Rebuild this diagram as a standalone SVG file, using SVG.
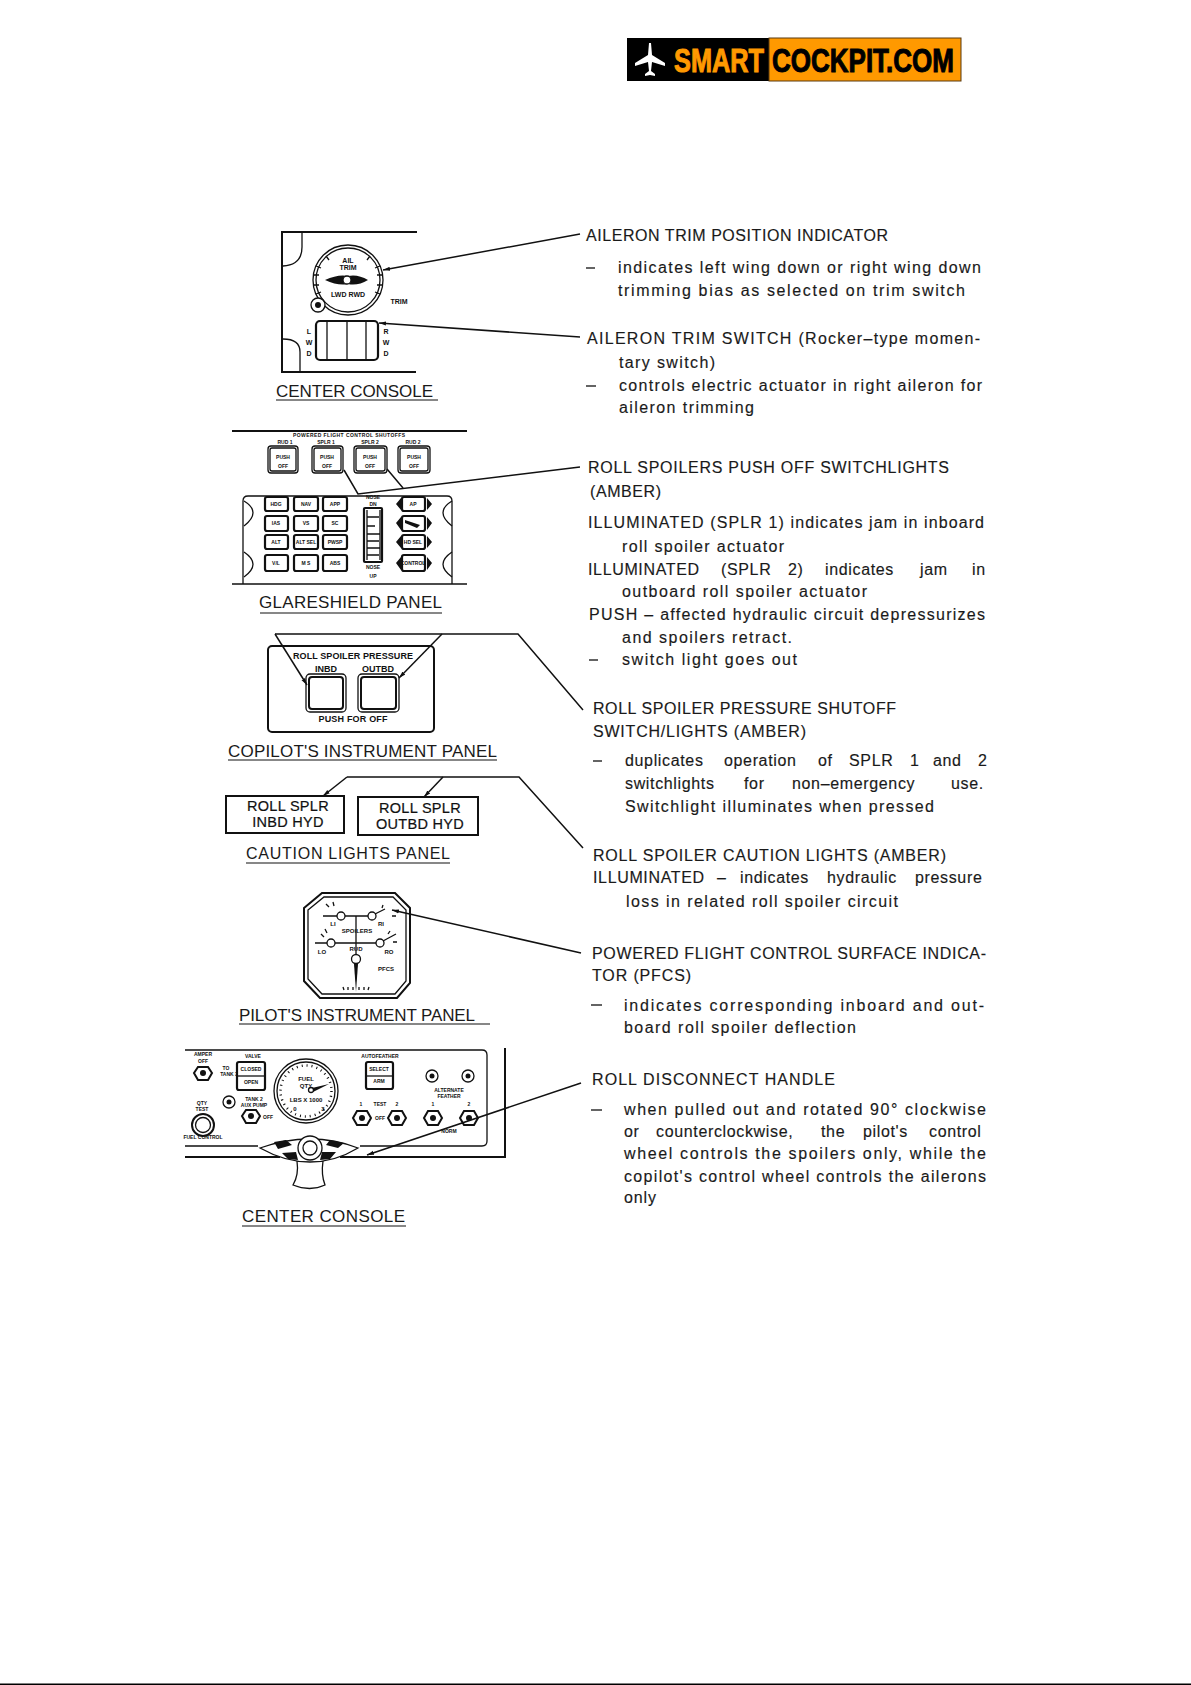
<svg xmlns="http://www.w3.org/2000/svg" width="1191" height="1685" viewBox="0 0 1191 1685">
<defs>
<marker id="ah" markerWidth="8" markerHeight="6" refX="7" refY="3" orient="auto" markerUnits="userSpaceOnUse"><path d="M0 1L7 3L0 5z" fill="#111"/></marker>
</defs>
<style>
text{font-family:"Liberation Sans",Arial,sans-serif;fill:#111}
.b{font-size:16px;fill:#1a1a1a;stroke:#1a1a1a;stroke-width:.15}
.j{letter-spacing:.65px}
.cap{font-size:17px;fill:#1a1a1a}
.t{font-weight:700;text-anchor:middle}
.s5{font-size:5px}.s6{font-size:6px}.s7{font-size:7px}.s9{font-size:9px}
.ln{fill:none;stroke:#111;stroke-width:1.3}
.th{fill:none;stroke:#111;stroke-width:2}
.w{fill:#fff;stroke:#111;stroke-width:1.3}
.wb{fill:#fff;stroke:#111;stroke-width:2.2}
.k{fill:#111;stroke:none}
.ul{stroke:#111;stroke-width:1.2;fill:none}
.c{fill:none;stroke:#111;stroke-width:1.5}
.d{stroke:#222;stroke-width:1.4}
</style>
<g id="logo">
<rect x="627" y="38" width="142" height="43" fill="#000"/>
<rect x="769" y="38" width="192" height="43" fill="#ff9900" stroke="#5a3a10" stroke-width="1"/>
<path d="M649 43L651 43L652 55L665 63L665 66L652 62L651 71L655 74L655 76L650 75L645 76L645 74L649 71L648 62L635 66L635 63L648 55z" fill="#fff"/>
<text x="674" y="72" font-size="33" font-weight="700" textLength="90" lengthAdjust="spacingAndGlyphs" style="fill:#ff9900;stroke:#ff9900;stroke-width:1">SMART</text>
<text x="772" y="72" font-size="33" font-weight="700" textLength="182" lengthAdjust="spacingAndGlyphs" style="fill:#000;stroke:#000;stroke-width:1">COCKPIT.COM</text>
</g>

<g id="center-console-trim">
<path class="th" d="M417 232H282V372H416"/>
<path class="ln" d="M302 232V247Q302 265 283 266M283 339Q300 339 300 352V372"/>
<path class="th" d="M282 266V339" stroke-width="2.6"/>
<circle class="w" cx="348" cy="280" r="35"/><circle class="ln" cx="348" cy="280" r="32"/>
<path class="ln" d="M316 266l5 2M313 275l6 0M313 285l6 0M316 294l5-2M380 266l-5 2M383 275l-6 0M383 285l-6 0M380 294l-5-2M326 256l3 4M370 256l-3 4"/>
<path class="k" d="M325 280Q338 274 348 276Q358 274 368 280Q358 286 348 284Q338 286 325 280z"/>
<circle class="w" cx="347" cy="280" r="4"/>
<circle class="w" cx="318" cy="305" r="7"/><circle class="k" cx="318" cy="305" r="3"/>
<text class="t s7" x="348" y="263">AIL</text><text class="t s7" x="348" y="270">TRIM</text>
<text class="t s7" x="348" y="297">LWD RWD</text>
<text class="t s7" x="399" y="304">TRIM</text>
<rect class="wb" x="316" y="321" width="62" height="39" rx="4" stroke-width="2.6"/>
<path class="ln" d="M327 322V359M347 322V359M366 322V359"/>
<text class="t s7" x="309" y="334">L</text><text class="t s7" x="309" y="345">W</text><text class="t s7" x="309" y="356">D</text>
<text class="t s7" x="386" y="334">R</text><text class="t s7" x="386" y="345">W</text><text class="t s7" x="386" y="356">D</text>
<text class="cap" x="276" y="397" textLength="157">CENTER CONSOLE</text>
<path class="ul" d="M276 400H438"/>
</g>

<g id="glareshield-panel">
<path class="th" d="M232 431H467"/>
<text class="t s5" x="349" y="437" textLength="112">POWERED FLIGHT CONTROL SHUTOFFS</text>
<text class="t s5" x="285" y="444">RUD 1</text><text class="t s5" x="326" y="444">SPLR 1</text><text class="t s5" x="370" y="444">SPLR 2</text><text class="t s5" x="413" y="444">RUD 2</text>
<rect class="w" x="268" y="446" width="30" height="27" rx="3"/><rect class="ln" x="270" y="448" width="26" height="23" rx="2"/>
<rect class="w" x="312" y="446" width="31" height="27" rx="3"/><rect class="ln" x="314" y="448" width="27" height="23" rx="2"/>
<rect class="w" x="354" y="446" width="33" height="27" rx="3"/><rect class="ln" x="356" y="448" width="29" height="23" rx="2"/>
<rect class="w" x="398" y="446" width="32" height="27" rx="3"/><rect class="ln" x="400" y="448" width="28" height="23" rx="2"/>
<g class="s5"><text class="t" x="283" y="459">PUSH</text><text class="t" x="283" y="468">OFF</text><text class="t" x="327" y="459">PUSH</text><text class="t" x="327" y="468">OFF</text><text class="t" x="370" y="459">PUSH</text><text class="t" x="370" y="468">OFF</text><text class="t" x="414" y="459">PUSH</text><text class="t" x="414" y="468">OFF</text></g>
<path class="ln" d="M232 584H243V501Q243 496 248 496H447Q452 496 452 501V584H467M243 584H452"/>
<path class="ln" d="M244 501Q262 512 244 526M244 552Q262 564 244 577M452 501Q434 512 452 526M452 552Q434 564 452 577"/>
<g>
<rect class="wb" x="265" y="497" width="23" height="14" rx="2"/><rect class="wb" x="294" y="497" width="24" height="14" rx="2"/><rect class="wb" x="323" y="497" width="24" height="14" rx="2"/>
<rect class="wb" x="265" y="516" width="23" height="15" rx="2"/><rect class="wb" x="294" y="516" width="24" height="15" rx="2"/><rect class="wb" x="323" y="516" width="24" height="15" rx="2"/>
<rect class="wb" x="265" y="535" width="23" height="14" rx="2"/><rect class="wb" x="294" y="535" width="24" height="14" rx="2"/><rect class="wb" x="323" y="535" width="24" height="14" rx="2"/>
<rect class="wb" x="265" y="555" width="23" height="16" rx="2"/><rect class="wb" x="294" y="555" width="24" height="16" rx="2"/><rect class="wb" x="323" y="555" width="24" height="16" rx="2"/>
<rect class="wb" x="402" y="497" width="23" height="14" rx="2"/><rect class="wb" x="402" y="516" width="23" height="15" rx="2"/><rect class="wb" x="402" y="535" width="23" height="14" rx="2"/><rect class="wb" x="402" y="555" width="23" height="16" rx="2"/>
<path class="k" d="M401 498L396 504L401 510zM427 498L432 504L427 510zM401 517L396 523L401 530zM427 517L432 523L427 530zM401 536L396 542L401 548zM427 536L432 542L427 548zM401 557L396 563L401 570zM427 557L432 563L427 570z"/>
</g>
<g class="s5">
<text class="t" x="276" y="506">HDG</text><text class="t" x="306" y="506">NAV</text><text class="t" x="335" y="506">APP</text>
<text class="t" x="276" y="525">IAS</text><text class="t" x="306" y="525">VS</text><text class="t" x="335" y="525">SC</text>
<text class="t" x="276" y="544">ALT</text><text class="t" x="306" y="544">ALT SEL</text><text class="t" x="335" y="544">PWSP</text>
<text class="t" x="276" y="565">V/L</text><text class="t" x="306" y="565">M S</text><text class="t" x="335" y="565">ABS</text>
<text class="t" x="413" y="506">AP</text><text class="t" x="413" y="544">HD SEL</text><text class="t" x="413" y="565">CONTROL</text>
<text class="t" x="373" y="499">NOSE</text><text class="t" x="373" y="506">DN</text><text class="t" x="373" y="569">NOSE</text><text class="t" x="373" y="578">UP</text>
</g>
<path class="k" d="M405 520L420 525L417 528L405 523z"/>
<rect class="wb" x="364" y="508" width="18" height="54" rx="1"/>
<path class="ln" d="M367 510V560M380 510V560M367 517H379M367 526H375M367 534H380M367 541H379M367 548H380M367 555H379"/>
<text class="cap" x="259" y="608" textLength="183">GLARESHIELD PANEL</text>
<path class="ul" d="M260 613H442"/>
</g>

<g id="copilot-panel">
<rect class="th" x="268" y="646" width="166" height="86" rx="4" stroke-width="1.8"/>
<text class="t s9" x="353" y="659" textLength="120">ROLL SPOILER PRESSURE</text>
<text class="t s9" x="326" y="672">INBD</text><text class="t s9" x="378" y="672">OUTBD</text>
<rect class="w" x="306" y="674" width="40" height="38" rx="4"/><rect class="th" x="309" y="677" width="34" height="32" rx="3"/>
<rect class="w" x="358" y="674" width="41" height="38" rx="4"/><rect class="th" x="361" y="677" width="35" height="32" rx="3"/>
<text class="t s9" x="353" y="722" textLength="69">PUSH FOR OFF</text>
<text class="cap" x="228" y="757" textLength="269">COPILOT'S INSTRUMENT PANEL</text>
<path class="ul" d="M228 760H497"/>
</g>

<g id="caution-panel">
<rect class="th" x="226" y="796" width="118" height="37"/>
<rect class="th" x="358" y="797" width="120" height="38"/>
<g font-size="14.5" letter-spacing=".3" style="stroke:#111;stroke-width:.2">
<text x="288" y="811" text-anchor="middle">ROLL SPLR</text><text x="288" y="827" text-anchor="middle">INBD HYD</text>
<text x="420" y="813" text-anchor="middle">ROLL SPLR</text><text x="420" y="829" text-anchor="middle">OUTBD HYD</text>
</g>
<text class="cap" x="246" y="859" textLength="204" style="font-size:16px">CAUTION LIGHTS PANEL</text>
<path class="ul" d="M246 863H450"/>
</g>

<g id="pfcs-indicator">
<path class="th" d="M304 908L322 893H395L410 908V983L397 998H320L304 981z"/>
<path class="ln" d="M308 910L324 897H393L406 910V981L395 994H322L308 979z"/>
<path class="ln" d="M323 916H372M315 943H380M356 916V959"/>
<circle class="w" cx="341" cy="916" r="4"/><circle class="w" cx="372" cy="916" r="4"/><circle class="w" cx="331" cy="943" r="4"/><circle class="w" cx="380" cy="943" r="4"/><circle class="w" cx="356" cy="959" r="4.5"/>
<path class="ln" d="M375 914L385 909M383 941L396 934M326 904l3 3M333 902l1 4M383 905l-1 3M392 916l4 0M321 934l3 3M325 929l2 4M390 931l-2 3M393 942l4 0"/>
<path class="k" d="M354 964H358L356 992z"/>
<path class="ln" d="M343 987l1 3M348 987l0 3M353 987l0 3M359 987l0 3M364 987l0 3M369 987l-1 3"/>
<text class="t s6" x="333" y="926">LI</text><text class="t s6" x="381" y="926">RI</text>
<text class="t s6" x="357" y="933">SPOILERS</text>
<text class="t s6" x="322" y="954">LO</text><text class="t s6" x="389" y="954">RO</text><text class="t s6" x="356" y="951">RUD</text>
<text class="t s6" x="386" y="971">PFCS</text>
<text class="cap" x="239" y="1021" textLength="236">PILOT'S INSTRUMENT PANEL</text>
<path class="ul" d="M239 1024H490"/>
</g>

<g id="center-console-roll">
<path class="ln" d="M185 1050H482Q487 1050 487 1055V1141Q487 1146 482 1146H360M258 1146H185"/>
<path class="th" d="M505 1048V1157H340M280 1157H185"/>
<text class="t s5" x="203" y="1056">AMPER</text><text class="t s5" x="203" y="1063">OFF</text>
<text class="t s5" x="226" y="1070">TO</text><text class="t s5" x="229" y="1076">TANK 3</text>
<text class="t s5" x="253" y="1058">VALVE</text>
<rect class="wb" x="237" y="1062" width="28" height="28" rx="2"/><path class="ln" d="M237 1076H265"/>
<text class="t s5" x="251" y="1071">CLOSED</text><text class="t s5" x="251" y="1084">OPEN</text>
<path class="th" d="M198 1067L208 1067L212 1073L208 1080H198L194 1073z"/><circle class="k" cx="203" cy="1073" r="3"/>
<circle class="w" cx="229" cy="1102" r="6"/><circle class="k" cx="229" cy="1102" r="2.5"/>
<text class="t s5" x="254" y="1101">TANK 2</text><text class="t s5" x="254" y="1107">AUX PUMP</text>
<path class="th" d="M246 1110H256L260 1116L256 1123H246L242 1116z"/><circle class="k" cx="251" cy="1116" r="3"/>
<text class="t s5" x="268" y="1119">OFF</text>
<text class="t s5" x="202" y="1105">QTY</text><text class="t s5" x="202" y="1111">TEST</text>
<circle class="th" cx="203" cy="1125" r="11"/><circle class="ln" cx="203" cy="1125" r="7.5"/>
<text class="t s5" x="203" y="1139">FUEL CONTROL</text>
<circle class="w" cx="306" cy="1091" r="32"/><circle class="ln" cx="306" cy="1091" r="29"/>
<circle cx="306" cy="1091" r="25.5" fill="none" stroke="#111" stroke-width="2.5" stroke-dasharray="1 4"/>
<text class="t s6" x="306" y="1081">FUEL</text><text class="t s6" x="306" y="1088">QTY</text><text class="t s6" x="306" y="1102">LBS X 1000</text>
<text class="t s6" x="295" y="1111">0</text><text class="t s6" x="323" y="1111">3</text>
<path class="k" d="M312 1088L329 1084L313 1092z"/><circle class="w" cx="311" cy="1090" r="2.5"/>
<text class="t s5" x="380" y="1058">AUTOFEATHER</text>
<rect class="wb" x="366" y="1062" width="27" height="27" rx="2"/><path class="ln" d="M366 1076H393"/>
<text class="t s5" x="379" y="1071">SELECT</text><text class="t s5" x="379" y="1083">ARM</text>
<circle class="w" cx="432" cy="1076" r="6"/><circle class="k" cx="432" cy="1076" r="2.5"/>
<circle class="w" cx="468" cy="1076" r="6"/><circle class="k" cx="468" cy="1076" r="2.5"/>
<text class="t s5" x="449" y="1092">ALTERNATE</text><text class="t s5" x="449" y="1098">FEATHER</text>
<text class="t s5" x="361" y="1106">1</text><text class="t s5" x="380" y="1106">TEST</text><text class="t s5" x="397" y="1106">2</text><text class="t s5" x="380" y="1120">OFF</text>
<text class="t s5" x="433" y="1106">1</text><text class="t s5" x="469" y="1106">2</text><text class="t s5" x="449" y="1133">NORM</text>
<path class="th" d="M357 1111H367L371 1118L367 1125H357L353 1118z"/><circle class="k" cx="362" cy="1118" r="3"/>
<path class="th" d="M392 1111H402L406 1118L402 1125H392L388 1118z"/><circle class="k" cx="397" cy="1118" r="3"/>
<path class="th" d="M428 1111H438L442 1118L438 1125H428L424 1118z"/><circle class="k" cx="433" cy="1118" r="3"/>
<path class="th" d="M464 1111H474L478 1118L474 1125H464L460 1118z"/><circle class="k" cx="469" cy="1118" r="3"/>
<path class="w" d="M297 1161H323Q321 1175 325 1185Q310 1192 293 1185Q299 1175 297 1161z" stroke-width="1.6"/>
<path class="w" d="M260 1148Q285 1139 310 1139Q335 1139 358 1148Q335 1162 310 1162Q285 1162 260 1148z" stroke-width="1.6"/>
<path class="k" d="M274 1142L286 1140L292 1145L278 1149zM330 1140L344 1143L338 1148L326 1145zM282 1153L296 1152L298 1160L288 1159zM322 1152L336 1152L330 1159L320 1160z"/>
<circle class="w" cx="310" cy="1148" r="12" stroke-width="1.8"/><circle class="ln" cx="310" cy="1148" r="7"/>
<text class="cap" x="242" y="1222" textLength="163">CENTER CONSOLE</text>
<path class="ul" d="M242 1226H406"/>
</g>

<g id="connectors">
<path class="c" marker-end="url(#ah)" d="M580 234L383 270"/>
<path class="c" marker-end="url(#ah)" d="M580 337L379 323"/>
<path class="c" d="M580 467L358 494L344 470M403 488L387 469"/>
<path class="c" d="M583 710L518 634H275"/><path class="c" marker-end="url(#ah)" d="M275 634L307 685"/><path class="c" marker-end="url(#ah)" d="M442 634L399 678"/>
<path class="c" d="M583 848L519 777H347"/><path class="c" marker-end="url(#ah)" d="M347 777L323 796"/><path class="c" marker-end="url(#ah)" d="M443 777L424 797"/>
<path class="c" marker-end="url(#ah)" d="M581 953L392 910"/>
<path class="c" marker-end="url(#ah)" d="M581 1083L367 1155"/>
</g>

<g id="text-blocks">
<text class="b" x="586" y="241" textLength="302">AILERON TRIM POSITION INDICATOR</text>
<path class="d" d="M586 268H595"/>
<text class="b" x="618" y="273" textLength="363">indicates left wing down or right wing down</text>
<text class="b" x="618" y="296" textLength="347">trimming bias as selected on trim switch</text>
<text class="b" x="587" y="344" textLength="393">AILERON TRIM SWITCH (Rocker–type momen-</text>
<text class="b" x="619" y="368" textLength="96">tary switch)</text>
<path class="d" d="M586 386H596"/>
<text class="b" x="619" y="391" textLength="363">controls electric actuator in right aileron for</text>
<text class="b" x="619" y="413" textLength="135">aileron trimming</text>
<text class="b" x="588" y="473" textLength="361">ROLL SPOILERS PUSH OFF SWITCHLIGHTS</text>
<text class="b" x="590" y="497" textLength="71">(AMBER)</text>
<text class="b" x="588" y="528" textLength="396">ILLUMINATED (SPLR 1) indicates jam in inboard</text>
<text class="b" x="622" y="552" textLength="162">roll spoiler actuator</text>
<text class="b j" y="575"><tspan x="588">ILLUMINATED</tspan> <tspan x="721">(SPLR</tspan> <tspan x="788">2)</tspan> <tspan x="825">indicates</tspan> <tspan x="920">jam</tspan> <tspan x="972">in</tspan></text>
<text class="b" x="622" y="597" textLength="245">outboard roll spoiler actuator</text>
<text class="b" x="589" y="620" textLength="396">PUSH – affected hydraulic circuit depressurizes</text>
<text class="b" x="622" y="643" textLength="170">and spoilers retract.</text>
<path class="d" d="M589 660H598"/>
<text class="b" x="622" y="665" textLength="175">switch light goes out</text>
<text class="b" x="593" y="714" textLength="303">ROLL SPOILER PRESSURE SHUTOFF</text>
<text class="b" x="593" y="737" textLength="213">SWITCH/LIGHTS (AMBER)</text>
<path class="d" d="M593 761H602"/>
<text class="b j" y="766"><tspan x="625">duplicates</tspan> <tspan x="724">operation</tspan> <tspan x="818">of</tspan> <tspan x="849">SPLR</tspan> <tspan x="910">1</tspan> <tspan x="933">and</tspan> <tspan x="978">2</tspan></text>
<text class="b j" y="789"><tspan x="625">switchlights</tspan> <tspan x="744">for</tspan> <tspan x="792">non–emergency</tspan> <tspan x="951">use.</tspan></text>
<text class="b" x="625" y="812" textLength="309">Switchlight illuminates when pressed</text>
<text class="b" x="593" y="861" textLength="353">ROLL SPOILER CAUTION LIGHTS (AMBER)</text>
<text class="b j" y="883"><tspan x="593">ILLUMINATED</tspan> <tspan x="717">–</tspan> <tspan x="740">indicates</tspan> <tspan x="827">hydraulic</tspan> <tspan x="915">pressure</tspan></text>
<text class="b" x="626" y="907" textLength="272">loss in related roll spoiler circuit</text>
<text class="b" x="592" y="959" textLength="394">POWERED FLIGHT CONTROL SURFACE INDICA-</text>
<text class="b" x="592" y="981" textLength="99">TOR (PFCS)</text>
<path class="d" d="M591 1005H602"/>
<text class="b" x="624" y="1011" textLength="360">indicates corresponding inboard and out-</text>
<text class="b" x="624" y="1033" textLength="232">board roll spoiler deflection</text>
<text class="b" x="592" y="1085" textLength="243">ROLL DISCONNECT HANDLE</text>
<path class="d" d="M591 1110H602"/>
<text class="b" x="624" y="1115" textLength="362">when pulled out and rotated 90° clockwise</text>
<text class="b j" y="1137"><tspan x="624">or</tspan> <tspan x="656">counterclockwise,</tspan> <tspan x="821">the</tspan> <tspan x="863">pilot's</tspan> <tspan x="929">control</tspan></text>
<text class="b" x="624" y="1159" textLength="362">wheel controls the spoilers only, while the</text>
<text class="b" x="624" y="1182" textLength="362">copilot's control wheel controls the ailerons</text>
<text class="b" x="624" y="1203" textLength="32">only</text>
</g>
<rect x="0" y="1683.5" width="1191" height="1.5" fill="#000"/>
</svg>
